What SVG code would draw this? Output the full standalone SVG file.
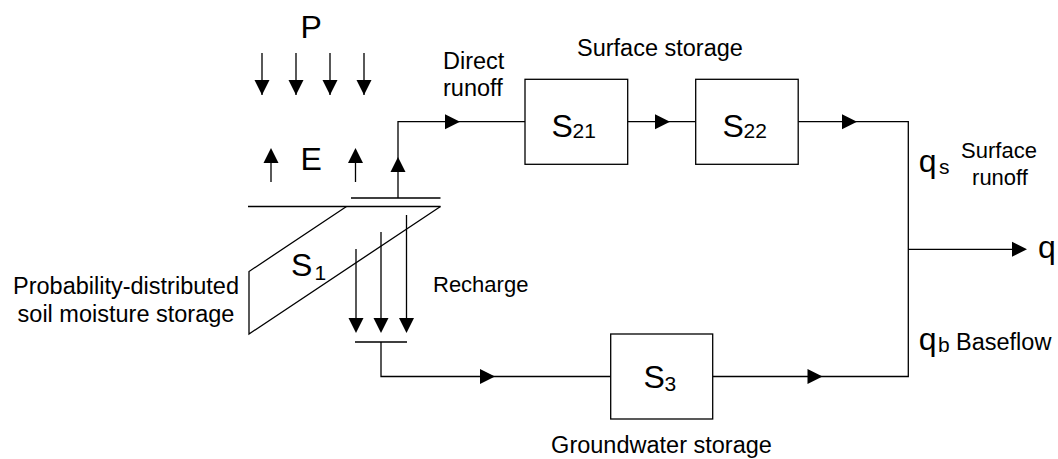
<svg xmlns="http://www.w3.org/2000/svg" xmlns:xlink="http://www.w3.org/1999/xlink" width="1058" height="459" viewBox="0 0 1058 459">
<style>
  text { font-family: "Liberation Sans", Arial, sans-serif; fill: #000; }
  .lbl { font-size: 23.5px; }
  .sm { font-size: 22px; }
  .big { font-size: 32px; }
  .sub { font-size: 21px; }
  .ln { fill: none; stroke: #000; stroke-width: 1.3; }
  .box { fill: #fff; stroke: #000; stroke-width: 1.3; }
  .ah { fill: #000; stroke: none; }
</style>
<defs>
  <path id="ah" class="ah" d="M0,0 L-15,-7.5 L-15,7.5 Z"/>
</defs>
<rect width="1058" height="459" fill="#fff"/>

<g id="connectors">
  <!-- precipitation -->
  <path class="ln" d="M262,53 V95 M296,53 V95 M330,53 V95 M364,53 V95"/>
  <use xlink:href="#ah" href="#ah" transform="translate(262,95) rotate(90)"/>
  <use xlink:href="#ah" href="#ah" transform="translate(296,95) rotate(90)"/>
  <use xlink:href="#ah" href="#ah" transform="translate(330,95) rotate(90)"/>
  <use xlink:href="#ah" href="#ah" transform="translate(364,95) rotate(90)"/>
  <!-- evaporation -->
  <path class="ln" d="M271,182 V150 M355.5,182 V150"/>
  <use xlink:href="#ah" href="#ah" transform="translate(271,148) rotate(-90)"/>
  <use xlink:href="#ah" href="#ah" transform="translate(355.5,148) rotate(-90)"/>
  <!-- direct runoff -->
  <path class="ln" d="M398,198 V121.7 H525"/>
  <use xlink:href="#ah" href="#ah" transform="translate(398,157) rotate(-90)"/>
  <use xlink:href="#ah" href="#ah" transform="translate(460,121.7)"/>
  <!-- S21 to S22 -->
  <path class="ln" d="M627.7,121.7 H695.7"/>
  <use xlink:href="#ah" href="#ah" transform="translate(670,121.7)"/>
  <!-- S22 to outlet, S3 to outlet -->
  <path class="ln" d="M798.2,121.7 H908.3 V376.5 H712.7"/>
  <use xlink:href="#ah" href="#ah" transform="translate(857,121.7)"/>
  <use xlink:href="#ah" href="#ah" transform="translate(822.5,376.5)"/>
  <!-- total flow -->
  <path class="ln" d="M908.3,249.3 H1020"/>
  <use xlink:href="#ah" href="#ah" transform="translate(1027,249.3)"/>
  <!-- recharge -->
  <path class="ln" d="M356,249 V320 M381,232 V320 M406.5,215 V320"/>
  <use xlink:href="#ah" href="#ah" transform="translate(356,333) rotate(90)"/>
  <use xlink:href="#ah" href="#ah" transform="translate(381,333) rotate(90)"/>
  <use xlink:href="#ah" href="#ah" transform="translate(406.5,333) rotate(90)"/>
  <path class="ln" d="M355,342 H407 M381,342 V376.5 H610.7"/>
  <use xlink:href="#ah" href="#ah" transform="translate(495,376.5)"/>
</g>

<g id="node-P">
  <text class="big" x="300.5" y="38">P</text>
</g>
<g id="node-E">
  <text class="big" x="300.5" y="170">E</text>
</g>

<g id="node-S1">
  <path class="ln" d="M248,206.5 H440.5 M351,198 H440.5"/>
  <path class="ln" d="M346.5,206.5 L249,271.5 V334 L440.5,206.5"/>
  <text class="big"><tspan x="291" y="275.5">S</tspan><tspan class="sub" x="314.5" y="279.5">1</tspan></text>
  <text class="lbl" x="126" y="294" text-anchor="middle">Probability-distributed</text>
  <text class="lbl" x="126" y="321.5" text-anchor="middle">soil moisture storage</text>
</g>

<g id="label-direct-runoff">
  <text class="lbl" x="443" y="69">Direct</text>
  <text class="lbl" x="443" y="96">runoff</text>
</g>

<g id="label-surface-storage">
  <text class="lbl" x="577" y="56">Surface storage</text>
</g>

<g id="node-S21">
  <rect class="box" x="525" y="79.3" width="102.7" height="85"/>
  <text class="big"><tspan x="551.5" y="136.5">S</tspan><tspan class="sub" x="572.5" y="137.5">21</tspan></text>
</g>

<g id="node-S22">
  <rect class="box" x="695.7" y="79.3" width="102.5" height="85"/>
  <text class="big"><tspan x="722.5" y="136.5">S</tspan><tspan class="sub" x="743.5" y="137.5">22</tspan></text>
</g>

<g id="label-recharge">
  <text class="sm" x="433" y="291.5">Recharge</text>
</g>

<g id="node-S3">
  <rect class="box" x="610.7" y="334" width="102" height="85"/>
  <text class="big"><tspan x="643.5" y="388">S</tspan><tspan class="sub" x="664.5" y="391">3</tspan></text>
  <text class="lbl" x="661.5" y="453" text-anchor="middle">Groundwater storage</text>
</g>

<g id="label-qs">
  <text class="big"><tspan x="918.7" y="172">q</tspan><tspan class="sub" x="939" y="174">s</tspan></text>
  <text class="sm" x="999" y="158" text-anchor="middle">Surface</text>
  <text class="sm" x="1000" y="185" text-anchor="middle">runoff</text>
</g>

<g id="label-qb">
  <text class="big"><tspan x="918.7" y="350">q</tspan><tspan class="sub" x="938" y="351.5">b</tspan></text>
  <text class="lbl" x="956" y="350">Baseflow</text>
</g>

<g id="node-q">
  <text class="big" x="1038" y="258">q</text>
</g>
</svg>
